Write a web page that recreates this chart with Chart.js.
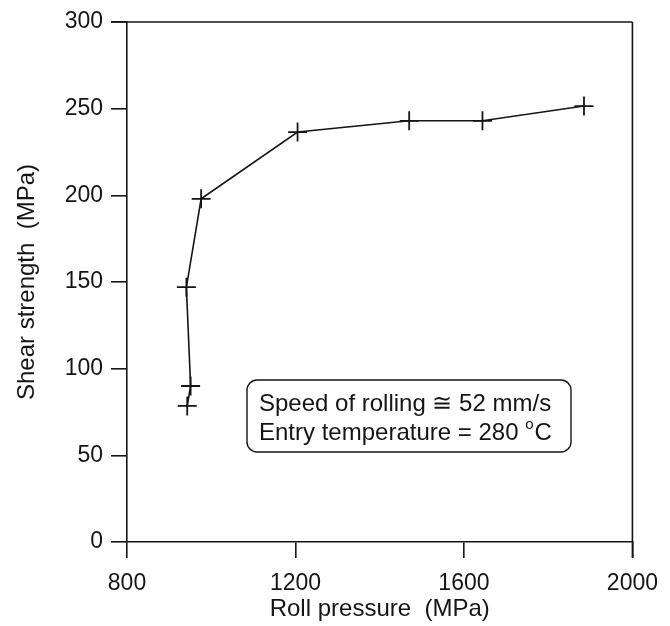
<!DOCTYPE html>
<html>
<head>
<meta charset="utf-8">
<script src="https://cdn.jsdelivr.net/npm/chart.js@4.4.1/dist/chart.umd.min.js"></script>
<style>
  html, body { margin: 0; padding: 0; background: #fff; }
  #wrap { width: 670px; height: 626px; position: relative; }
</style>
</head>
<body>
<div id="wrap"><canvas id="c" width="670" height="626"></canvas></div>
<script>
// Data
const rollPressure = [943, 951, 941, 976, 1205, 1470, 1644, 1885];   // MPa
const shearStrength = [78.5, 90, 147, 198, 236.5, 243, 243, 251.5];  // MPa
const xTicks = [800, 1200, 1600, 2000];
const yTicks = [0, 50, 100, 150, 200, 250, 300];
const xTitle = 'Roll pressure  (MPa)';
const yTitle = 'Shear strength  (MPa)';
const noteLines = ['Speed of rolling \u2245 52 mm/s', 'Entry temperature = 280 '];

const INK = '#151515';
const FONT = "'Liberation Sans', Arial, Helvetica, sans-serif";

const points = rollPressure.map((x, i) => ({ x: x, y: shearStrength[i] }));

const framePlugin = {
  id: 'frame',
  afterDraw(chart) {
    const ctx = chart.ctx;
    const a = chart.chartArea;
    ctx.save();
    ctx.strokeStyle = INK;
    ctx.lineWidth = 1.6;
    ctx.beginPath();
    ctx.moveTo(a.left - 16, a.top);
    ctx.lineTo(a.right, a.top);
    ctx.moveTo(a.right, a.top);
    ctx.lineTo(a.right, a.bottom + 16);
    ctx.stroke();

    // annotation box
    const bx = a.left + 120, by = a.top + 358, bw = 324, bh = 72, r = 10;
    ctx.lineWidth = 1.4;
    ctx.beginPath();
    ctx.moveTo(bx + r, by);
    ctx.lineTo(bx + bw - r, by);
    ctx.arcTo(bx + bw, by, bx + bw, by + r, r);
    ctx.lineTo(bx + bw, by + bh - r);
    ctx.arcTo(bx + bw, by + bh, bx + bw - r, by + bh, r);
    ctx.lineTo(bx + r, by + bh);
    ctx.arcTo(bx, by + bh, bx, by + bh - r, r);
    ctx.lineTo(bx, by + r);
    ctx.arcTo(bx, by, bx + r, by, r);
    ctx.stroke();

    ctx.fillStyle = INK;
    ctx.font = '24px ' + FONT;
    ctx.textBaseline = 'middle';
    ctx.textAlign = 'left';
    ctx.fillText(noteLines[0], bx + 12, by + 24);
    ctx.fillText(noteLines[1], bx + 12, by + 53);
    const w = ctx.measureText(noteLines[1]).width;
    ctx.font = '15px ' + FONT;
    ctx.fillText('o', bx + 12 + w, by + 45);
    const wo = ctx.measureText('o').width;
    ctx.font = '24px ' + FONT;
    ctx.fillText('C', bx + 12 + w + wo + 1, by + 53);
    ctx.restore();
  }
};

new Chart(document.getElementById('c'), {
  type: 'scatter',
  data: {
    datasets: [{
      data: points,
      showLine: true,
      borderColor: INK,
      borderWidth: 1.6,
      pointStyle: 'cross',
      pointRadius: 9.5,
      pointBorderWidth: 1.8,
      pointBorderColor: INK,
      pointBackgroundColor: INK,
      tension: 0
    }]
  },
  options: {
    responsive: false,
    animation: false,
    events: [],
    layout: { padding: { left: 0, top: 22, right: 29, bottom: 0 } },
    plugins: { legend: { display: false }, tooltip: { enabled: false } },
    scales: {
      x: {
        type: 'linear',
        min: 800, max: 2000,
        afterFit(s) { s.height = 84; },
        afterBuildTicks(s) { s.ticks = xTicks.map(v => ({ value: v })); },
        border: { display: true, color: INK, width: 1.6 },
        grid: { drawOnChartArea: false, drawTicks: true, tickLength: 16, color: INK, lineWidth: 1.6 },
        ticks: { padding: 12, color: INK, font: { family: FONT, size: 23 }, maxRotation: 0, callback: v => String(v) },
        title: { display: true, text: xTitle, color: INK, font: { family: FONT, size: 24 }, padding: { top: 0, bottom: 2 } }
      },
      y: {
        type: 'linear',
        min: 0, max: 300,
        afterFit(s) { s.width = 127; },
        afterBuildTicks(s) { s.ticks = yTicks.map(v => ({ value: v })); },
        border: { display: true, color: INK, width: 1.6 },
        grid: { drawOnChartArea: false, drawTicks: true, tickLength: 16, color: INK, lineWidth: 1.6 },
        ticks: { padding: 8, color: INK, font: { family: FONT, size: 23 }, callback: v => String(v) },
        title: { display: true, text: yTitle, color: INK, font: { family: FONT, size: 24 }, padding: { top: 13, bottom: 0 } }
      }
    }
  },
  plugins: [framePlugin]
});
</script>
</body>
</html>
